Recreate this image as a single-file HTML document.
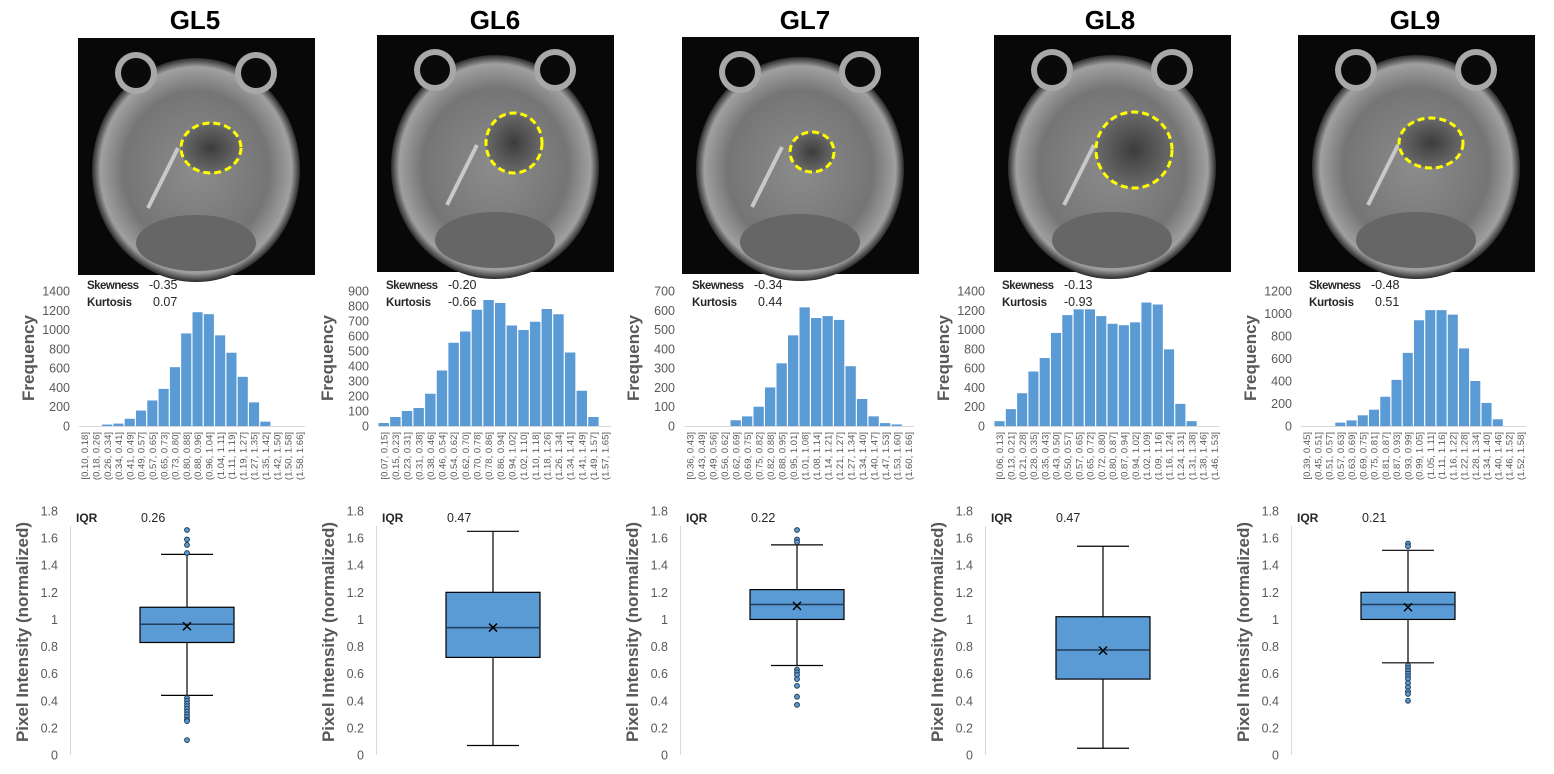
<!DOCTYPE html>
<html><head><meta charset="utf-8"><style>
html,body{margin:0;padding:0;background:#fff;}
svg{display:block;font-family:"Liberation Sans",sans-serif;}
</style></head><body>
<svg id="fig" width="1554" height="774" viewBox="0 0 1554 774" xmlns="http://www.w3.org/2000/svg">
<defs>
<radialGradient id="brain" cx="50%" cy="50%" r="50%">
<stop offset="0%" stop-color="#8c8c8c"/><stop offset="70%" stop-color="#757575"/><stop offset="92%" stop-color="#a0a0a0"/><stop offset="100%" stop-color="#2a2a2a"/>
</radialGradient>
<radialGradient id="tumor" cx="50%" cy="50%" r="50%">
<stop offset="0%" stop-color="#3c3c3c"/><stop offset="100%" stop-color="#6a6a6a"/>
</radialGradient>
</defs>
<g id="layer"></g>
</svg>
<script>
const panelNames = ["GL5","GL6","GL7","GL8","GL9"];
const skewness = ["-0.35","-0.20","-0.34","-0.13","-0.48"];
const kurtosis = ["0.07","-0.66","0.44","-0.93","0.51"];
const iqrValues = ["0.26","0.47","0.22","0.47","0.21"];
const histMax = [1400,900,700,1400,1200];
const histStep = [200,100,100,200,200];
const binEdgesGL5 = ["0.10","0.18","0.26","0.34","0.41","0.49","0.57","0.65","0.73","0.80","0.88","0.96","1.04","1.11","1.19","1.27","1.35","1.42","1.50","1.58","1.66"];
const binEdgesGL6 = ["0.07","0.15","0.23","0.31","0.38","0.46","0.54","0.62","0.70","0.78","0.86","0.94","1.02","1.10","1.18","1.26","1.34","1.41","1.49","1.57","1.65"];
const binEdgesGL7 = ["0.36","0.43","0.49","0.56","0.62","0.69","0.75","0.82","0.88","0.95","1.01","1.08","1.14","1.21","1.27","1.34","1.40","1.47","1.53","1.60","1.66"];
const binEdgesGL8 = ["0.06","0.13","0.21","0.28","0.35","0.43","0.50","0.57","0.65","0.72","0.80","0.87","0.94","1.02","1.09","1.16","1.24","1.31","1.38","1.46","1.53"];
const binEdgesGL9 = ["0.39","0.45","0.51","0.57","0.63","0.69","0.75","0.81","0.87","0.93","0.99","1.05","1.11","1.16","1.22","1.28","1.34","1.40","1.46","1.52","1.58"];
const freqGL5 = [0,0,15,25,75,160,265,385,610,960,1180,1160,940,760,510,245,45,0,0,0];
const freqGL6 = [20,60,100,120,215,370,555,630,775,840,820,670,640,695,780,745,490,235,60,0];
const freqGL7 = [0,0,0,0,30,50,100,200,325,470,615,560,570,550,310,140,50,15,8,0];
const freqGL8 = [50,175,340,565,705,965,1150,1210,1210,1140,1060,1045,1075,1280,1260,795,230,50,0,0];
const freqGL9 = [0,0,0,30,50,95,145,260,410,650,940,1030,1030,990,690,400,205,60,0,0];
const boxQ1 = [0.83,0.72,1.00,0.56,1.00];
const boxQ3 = [1.09,1.20,1.22,1.02,1.20];
const boxMedian = [0.965,0.94,1.11,0.775,1.11];
const boxMean = [0.95,0.94,1.10,0.77,1.09];
const whiskerLow = [0.44,0.07,0.66,0.05,0.68];
const whiskerHigh = [1.48,1.65,1.55,1.54,1.51];
const outliersGL5 = [1.66,1.59,1.55,1.49,0.42,0.40,0.38,0.36,0.34,0.32,0.30,0.28,0.26,0.25,0.11];
const outliersGL6 = [];
const outliersGL7 = [1.66,1.59,1.57,0.63,0.61,0.59,0.56,0.51,0.43,0.37];
const outliersGL8 = [];
const outliersGL9 = [1.56,1.54,0.66,0.64,0.62,0.60,0.58,0.56,0.53,0.50,0.47,0.45,0.40];
const boxTicks = ["0","0.2","0.4","0.6","0.8","1","1.2","1.4","1.6","1.8"];

const binEdges=[binEdgesGL5,binEdgesGL6,binEdgesGL7,binEdgesGL8,binEdgesGL9];
const freqs=[freqGL5,freqGL6,freqGL7,freqGL8,freqGL9];
const outliers=[outliersGL5,outliersGL6,outliersGL7,outliersGL8,outliersGL9];

// layout
const titleX=[195,495,805,1110,1415];
const imgX=[78,377,682,994,1298], imgY=[38,35,37,35,35];
const histL=[79,378,684,994,1301], histR=[305,611,914,1220,1526];
const histTop=291, histBase=426;
const boxAxisX=[70,376,680,985,1291], boxC=[187,493,797,1103,1408];
const boxY0=755, boxY18=511;

const NS="http://www.w3.org/2000/svg";
const layer=document.getElementById('layer');
function mk(tag,attrs,parent,text){const e=document.createElementNS(NS,tag);for(const k in attrs)e.setAttribute(k,attrs[k]);if(text!==undefined)e.textContent=text;(parent||layer).appendChild(e);return e;}

for(let p=0;p<5;p++){
  const g=mk('g',{});
  
  
  const t=mk('text',{x:titleX[p],y:29,'text-anchor':'middle','font-size':26,'font-weight':'bold',fill:'#000'},g,panelNames[p]);
  
  

  const im=mk('g',{},g);
  
  
  const ix=imgX[p], iy=imgY[p];
  mk('rect',{x:ix,y:iy,width:237,height:237,fill:'#080808'},im);
  mk('ellipse',{cx:ix+118,cy:iy+132,rx:104,ry:112,fill:'url(#brain)'},im);
  mk('ellipse',{cx:ix+118,cy:iy+205,rx:60,ry:28,fill:'#666'},im);
  for(const dx of [58,178]){
    mk('circle',{cx:ix+dx,cy:iy+35,r:21,fill:'#a8a8a8'},im);
    mk('circle',{cx:ix+dx,cy:iy+35,r:15,fill:'#0a0a0a'},im);
  }
  mk('line',{x1:ix+70,y1:iy+170,x2:ix+100,y2:iy+110,stroke:'#c8c8c8','stroke-width':4},im);
  const tcx=ix+[133,137,130,140,133][p], tcy=iy+[110,108,115,115,108][p];
  const trx=[30,28,22,38,32][p], try_=[25,30,20,38,25][p];
  mk('ellipse',{cx:tcx,cy:tcy,rx:trx,ry:try_,fill:'url(#tumor)',stroke:'#ffff00','stroke-width':3,'stroke-dasharray':'7,4'},im);

  const hg=mk('g',{},g);
  
  
  const L=histL[p],R=histR[p],data=freqs[p],n=data.length,bw=(R-L)/n;
  const yH=v=>histBase-(v/histMax[p])*(histBase-histTop);
  for(let v=0;v<=histMax[p];v+=histStep[p]){
    const tl=mk('text',{x:L-9,y:yH(v)+4.5,'text-anchor':'end','font-size':12.5,fill:'#595959'},hg,String(v));
    
    
  }
  mk('line',{x1:L,y1:histBase+0.5,x2:R,y2:histBase+0.5,stroke:'#d9d9d9','stroke-width':1},hg);
  data.forEach((v,i)=>{
    if(v<=0)return;
    const b=mk('rect',{x:L+i*bw+0.5,y:yH(v),width:bw-1.2,height:histBase-yH(v),fill:'#5b9bd5'},hg);
    
    
  });
  const ed=binEdges[p];
  for(let i=0;i<n;i++){
    const lab=(i===0?'[':'(')+ed[i]+', '+ed[i+1]+']';
    const cx=L+(i+0.5)*bw+3.5;
    const xl=mk('text',{x:cx,y:432,transform:`rotate(-90 ${cx} 432)`,'text-anchor':'end','font-size':9.5,fill:'#595959'},hg,lab);
    
    
  }
  const ft=mk('text',{x:0,y:0,transform:`translate(${L-45} 358) rotate(-90)`,'text-anchor':'middle','font-size':17,'font-weight':'bold',fill:'#595959'},hg,'Frequency');
  
  
  const s1=mk('text',{x:L+8,y:289,'font-size':11.5,'font-weight':'bold',fill:'#262626',textLength:52},hg,'Skewness');
  
  
  const s2=mk('text',{x:L+70,y:289,'font-size':12.5,fill:'#262626'},hg,skewness[p]);
  
  
  const k1=mk('text',{x:L+8,y:306,'font-size':11.5,'font-weight':'bold',fill:'#262626',textLength:45},hg,'Kurtosis');
  
  
  const kx=kurtosis[p][0]==='-'?L+70:L+74;
  const k2=mk('text',{x:kx,y:306,'font-size':12.5,fill:'#262626'},hg,kurtosis[p]);
  
  

  const bg=mk('g',{},g);
  
  
  const A=boxAxisX[p], C=boxC[p];
  const yB=v=>boxY0-(v/1.8)*(boxY0-boxY18);
  boxTicks.forEach(tk=>{
    const tl=mk('text',{x:A-12,y:yB(parseFloat(tk))+4.5,'text-anchor':'end','font-size':12.5,fill:'#595959'},bg,tk);
    
    
  });
  mk('line',{x1:A+0.5,y1:yB(1.8)+15,x2:A+0.5,y2:boxY0,stroke:'#d9d9d9','stroke-width':1},bg);
  const yt=mk('text',{x:0,y:0,transform:`translate(${A-42} 632) rotate(-90)`,'text-anchor':'middle','font-size':17,'font-weight':'bold',fill:'#595959'},bg,'Pixel Intensity (normalized)');
  
  
  const i1=mk('text',{x:A+6,y:522,'font-size':12,'font-weight':'bold',fill:'#262626'},bg,'IQR');
  
  
  const i2=mk('text',{x:A+71,y:522,'font-size':12.5,fill:'#262626'},bg,iqrValues[p]);
  
  
  const wh=mk('path',{d:`M${C} ${yB(whiskerHigh[p])}V${yB(boxQ3[p])}M${C} ${yB(boxQ1[p])}V${yB(whiskerLow[p])}M${C-26} ${yB(whiskerHigh[p])}H${C+26}M${C-26} ${yB(whiskerLow[p])}H${C+26}`,stroke:'#000','stroke-width':1.2,fill:'none'},bg);
  
  
  const bx=mk('rect',{x:C-47,y:yB(boxQ3[p]),width:94,height:yB(boxQ1[p])-yB(boxQ3[p]),fill:'#5b9bd5',stroke:'#000','stroke-width':1.2},bg);
  
  
  const md=mk('line',{x1:C-47,y1:yB(boxMedian[p]),x2:C+47,y2:yB(boxMedian[p]),stroke:'#1f3b57','stroke-width':1.5},bg);
  
  
  const my=yB(boxMean[p]);
  const mm=mk('path',{d:`M${C-4} ${my-4}L${C+4} ${my+4}M${C-4} ${my+4}L${C+4} ${my-4}`,stroke:'#000','stroke-width':1.5},bg);
  
  
  outliers[p].forEach(v=>{
    const o=mk('circle',{cx:C,cy:yB(v),r:2.4,fill:'#5b9bd5',stroke:'#1f3b57','stroke-width':1},bg);
    
    
  });
}
</script>
</body></html>
